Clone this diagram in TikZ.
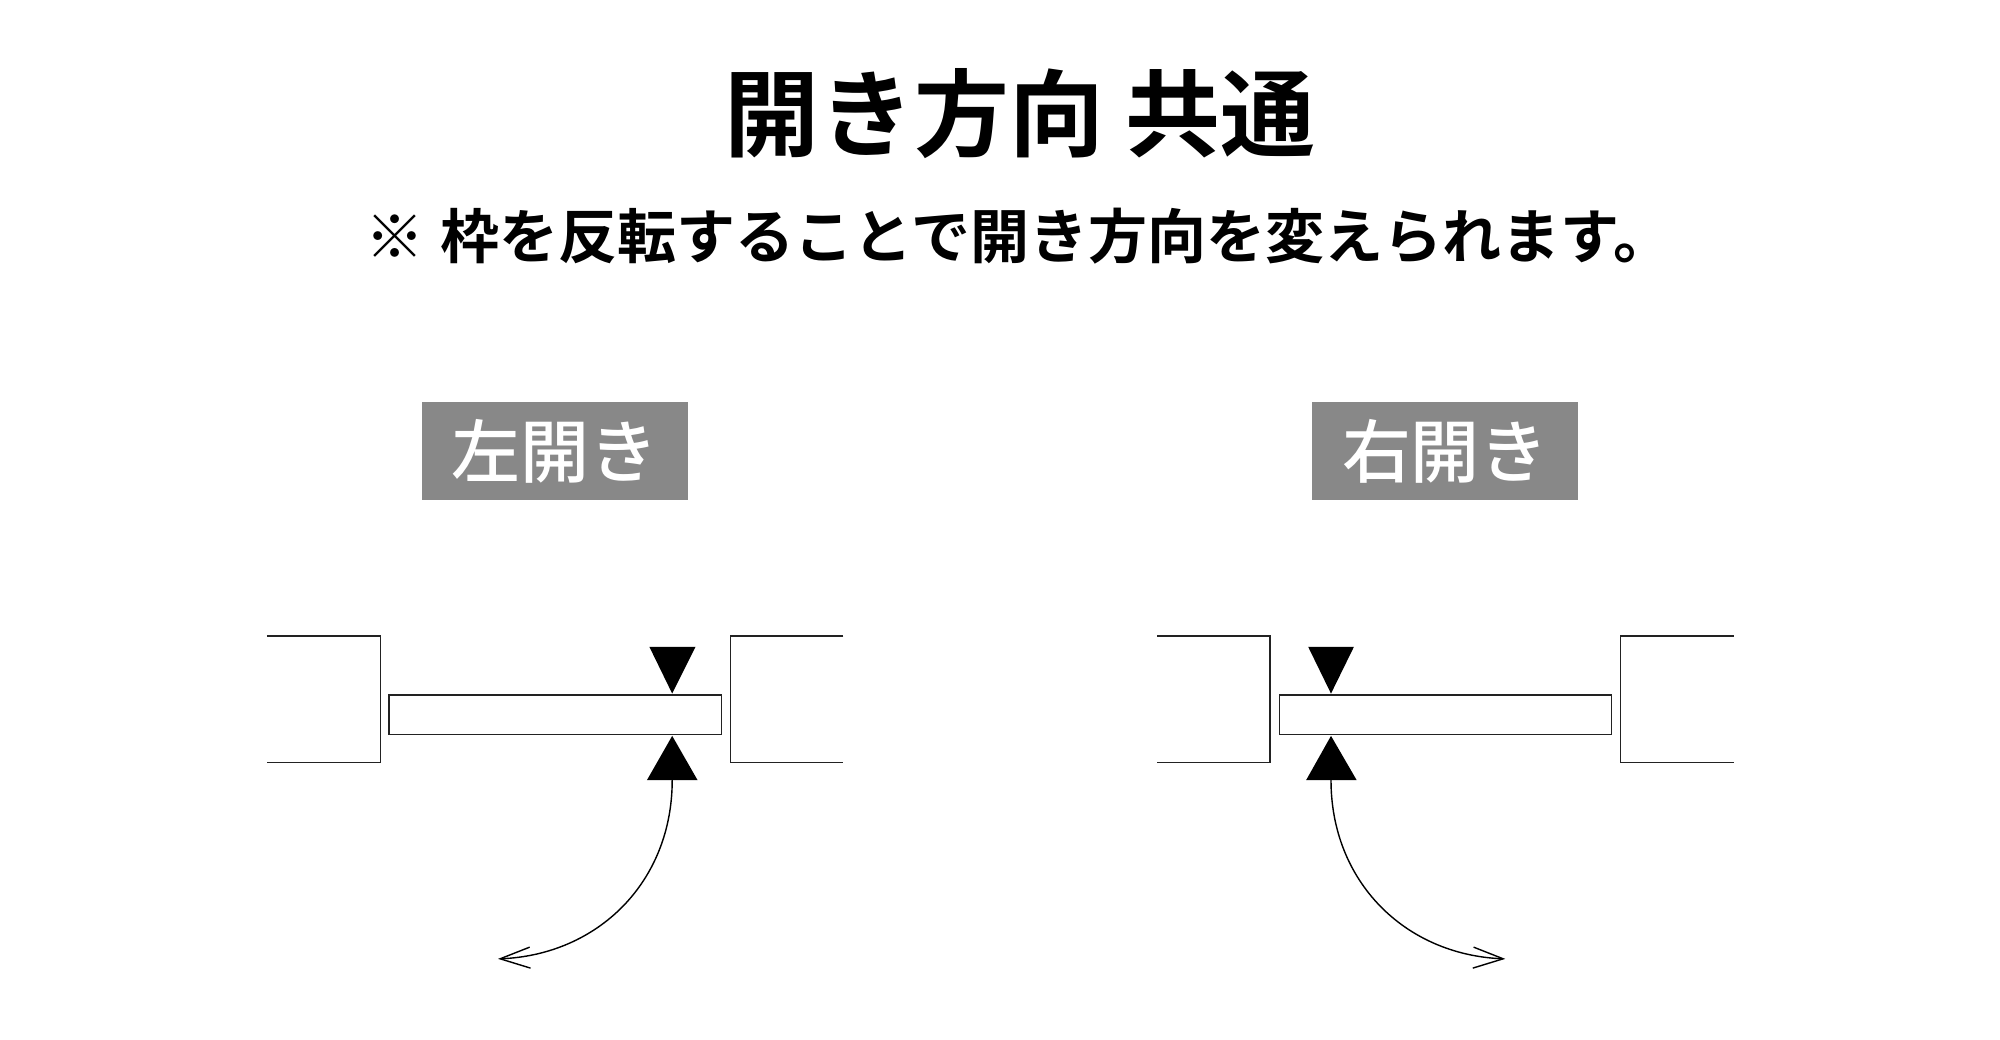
\documentclass[tikz,border=0pt]{standalone}
\usepackage{fontspec}
\usepackage{tikz}
\usetikzlibrary{arrows.meta}
\setmainfont{Noto Sans CJK JP}[BoldFont={Noto Sans CJK JP Bold}]
\newfontfamily\mediumcjk{Noto Sans CJK JP Medium}
\definecolor{labelgray}{HTML}{888888}
\definecolor{linegray}{HTML}{222222}
\tikzset{
  wall/.style={draw=linegray, line width=0.4pt},
  pointer/.style={fill=black, draw=none},
  sidelabel/.style={fill=labelgray, text=white, inner sep=0pt, minimum width=2.66cm, minimum height=0.98cm, font=\mediumcjk\fontsize{19.6pt}{19.6pt}\selectfont},
  swing/.style={draw=black, line width=0.4pt, -{Straight Barb[length=0.3cm,width=0.21cm,line width=0.4pt]}}
}
\begin{document}
\begin{tikzpicture}
  \useasboundingbox (0,0) rectangle (20,10.4);
  \node (titleText) at (10.2,9.26) {\fontsize{27pt}{27pt}\selectfont\bfseries 開き方向 共通};
  \node (noteText) at (10.19,8.04) {\fontsize{16.8pt}{16.8pt}\selectfont\bfseries ※\hspace{0.27em}枠を反転することで開き方向を変えられます。};
  \node[sidelabel] (labelLeft) at (5.553,5.885) {左開き};
  \node[sidelabel] (labelRight) at (14.454,5.885) {右開き};
  % left opening
  \draw[wall] (2.669,4.038) -- (3.804,4.038) -- (3.804,2.776) -- (2.669,2.776);
  \draw[wall] (8.433,4.038) -- (7.306,4.038) -- (7.306,2.776) -- (8.433,2.776);
  \draw[wall] (3.89,3.057) rectangle (7.216,3.449);
  \draw[pointer] (6.494,3.931) -- (6.955,3.931) -- (6.722,3.464) -- cycle;
  \draw[pointer] (6.469,2.598) -- (6.976,2.598) -- (6.722,3.041) -- cycle;
  \coordinate (hingeLeft) at (6.722,2.598);
  \coordinate (swingLeft) at (4.98,0.811);
  \draw[swing] (hingeLeft) .. controls (6.722,1.58) and (5.98,0.85) .. (swingLeft);
  % right opening
  \draw[wall] (11.571,4.038) -- (12.698,4.038) -- (12.698,2.776) -- (11.571,2.776);
  \draw[wall] (17.335,4.038) -- (16.204,4.038) -- (16.204,2.776) -- (17.335,2.776);
  \draw[wall] (12.796,3.057) rectangle (16.114,3.449);
  \draw[pointer] (13.082,3.931) -- (13.539,3.931) -- (13.31,3.464) -- cycle;
  \draw[pointer] (13.061,2.598) -- (13.567,2.598) -- (13.31,3.041) -- cycle;
  \coordinate (hingeRight) at (13.31,2.598);
  \coordinate (swingRight) at (15.053,0.811);
  \draw[swing] (hingeRight) .. controls (13.31,1.58) and (14.053,0.85) .. (swingRight);
\end{tikzpicture}
\end{document}
